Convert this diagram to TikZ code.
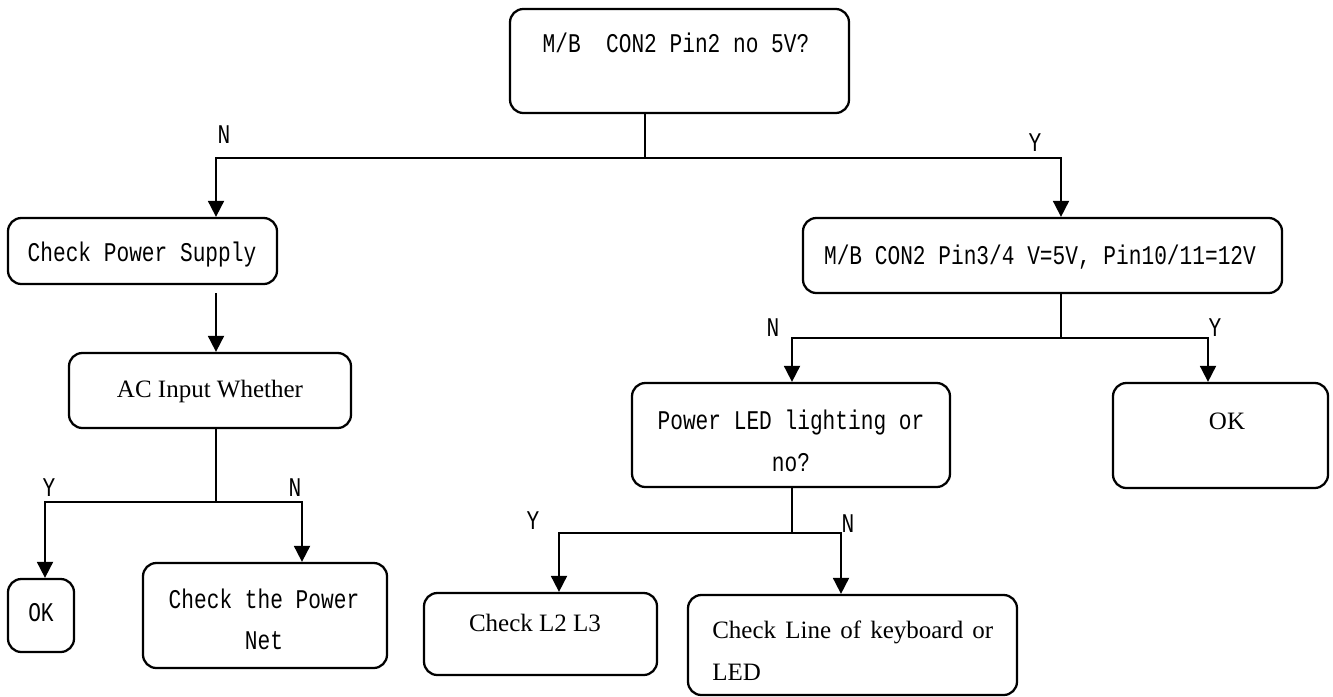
\documentclass[tikz,border=0pt]{standalone}
\usepackage{fontspec}
\newfontfamily\monof{Liberation Mono}[FakeStretch=0.784]
\newfontfamily\serf{Liberation Serif}
\usetikzlibrary{arrows.meta}
\begin{document}
\begin{tikzpicture}[x=0.75pt,y=-0.75pt,
  box/.style={draw, line width=1.7pt, rounded corners=10pt, inner sep=0pt},
  con/.style={line width=1.4pt},
  arr/.style={con, -{Triangle[width=12pt,length=12pt]}},
  mt/.style={font=\monof\fontsize{20.25pt}{30pt}\selectfont, inner sep=0pt, anchor=base},
  st/.style={font=\serf\fontsize{18.75pt}{31.5pt}\selectfont, inner sep=0pt, anchor=base},
]
\useasboundingbox (0,0) rectangle (1333,696);

% boxes
\node[box, minimum width=339*0.75pt, minimum height=104*0.75pt] (T) at (679.5,61) {};
\node[box, minimum width=269*0.75pt, minimum height=66*0.75pt] (CPS) at (142.5,251) {};
\node[box, minimum width=282*0.75pt, minimum height=75*0.75pt] (AC) at (210,390.5) {};
\node[box, minimum width=66*0.75pt, minimum height=73*0.75pt] (OKa) at (41,615.5) {};
\node[box, minimum width=244*0.75pt, minimum height=105*0.75pt] (CPN) at (265,615.5) {};
\node[box, minimum width=479*0.75pt, minimum height=75*0.75pt] (MB) at (1042.5,255.5) {};
\node[box, minimum width=318*0.75pt, minimum height=104*0.75pt] (PL) at (791,435) {};
\node[box, minimum width=215*0.75pt, minimum height=105*0.75pt] (OKb) at (1220.5,435.5) {};
\node[box, minimum width=233*0.75pt, minimum height=82*0.75pt] (L23) at (540.5,634) {};
\node[box, minimum width=329*0.75pt, minimum height=100*0.75pt] (CL) at (852.5,645) {};

% texts
\node[mt] (tT) at (676,52) {M/B\ \ CON2 Pin2 no 5V?};
\node[mt] (tCPS) at (142,261) {Check Power Supply};
\node[st] (tAC) at (210,397.5) {AC Input Whether};
\node[mt] (tOKa) at (41,621) {OK};
\node[mt] (tCPN1) at (264,608) {Check the Power};
\node[mt] (tCPN2) at (264,649) {Net};
\node[mt] (tMB) at (1040,264) {M/B CON2 Pin3/4 V=5V,\ Pin10/11=12V};
\node[mt] (tPL1) at (791,429) {Power LED lighting or};
\node[mt] (tPL2) at (791,471) {no?};
\node[st] (tOKb) at (1227,429) {OK};
\node[st] (tL23) at (535,631.5) {Check L2 L3};
\node[st, anchor=base west] (tCL1) at (712,638.5) {\makebox[210.75pt][s]{Check Line of keyboard or}};
\node[st, anchor=base west] (tCL2) at (712,680.5) {LED};

% branch labels
\node[mt] (n1) at (224,143) {N};
\node[mt] (y1) at (1035,151) {Y};
\node[mt] (y2) at (49,496) {Y};
\node[mt] (n2) at (295,496) {N};
\node[mt] (n3) at (773,336) {N};
\node[mt] (y3) at (1215,336) {Y};
\node[mt] (y4) at (533,529) {Y};
\node[mt] (n4) at (848,532) {N};

% connectors
\coordinate (j1) at (645,158);
\coordinate (a1) at (216,158);
\coordinate (a2) at (1061,158);
\draw[con] (j1 |- T.south) -- (j1);
\draw[arr] (j1) -- (a1) -- (a1 |- CPS.north);
\draw[arr] (j1) -- (a2) -- (a2 |- MB.north);

\coordinate (s1) at (216,293);
\draw[arr] (s1) -- (s1 |- AC.north);

\coordinate (j2) at (216,502);
\coordinate (b1) at (45,502);
\coordinate (b2) at (302,502);
\draw[con] (j2 |- AC.south) -- (j2);
\draw[arr] (j2) -- (b1) -- (b1 |- OKa.north);
\draw[arr] (j2) -- (b2) -- (b2 |- CPN.north);

\coordinate (j3) at (1061,338);
\coordinate (c1) at (792,338);
\coordinate (c2) at (1208,338);
\draw[con] (j3 |- MB.south) -- (j3);
\draw[arr] (j3) -- (c1) -- (c1 |- PL.north);
\draw[arr] (j3) -- (c2) -- (c2 |- OKb.north);

\coordinate (j4) at (792,533);
\coordinate (d1) at (559,533);
\coordinate (d2) at (841,533);
\draw[con] (j4 |- PL.south) -- (j4);
\draw[arr] (j4) -- (d1) -- (d1 |- L23.north);
\draw[arr] (j4) -- (d2) -- (d2 |- CL.north);
\end{tikzpicture}
\end{document}
